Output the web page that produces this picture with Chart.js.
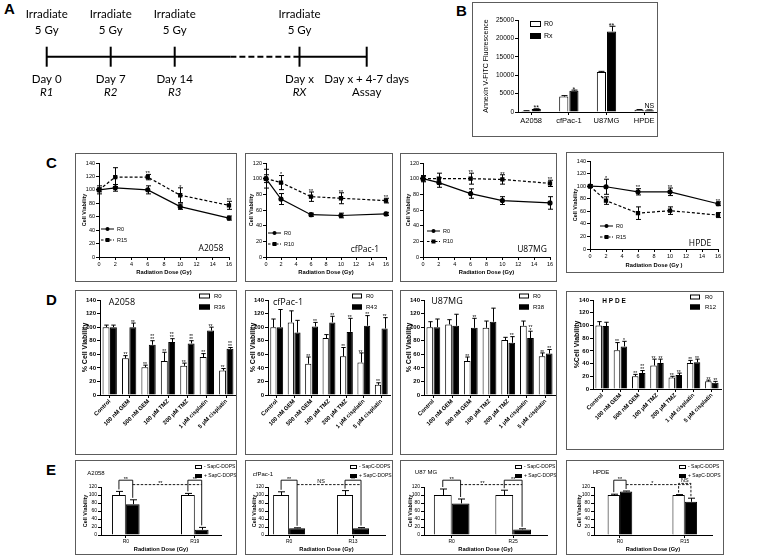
<!DOCTYPE html>
<html><head><meta charset="utf-8"><title>Figure</title>
<script src="https://cdn.jsdelivr.net/npm/chart.js@4.4.1/dist/chart.umd.min.js"></script>
<style>
html,body{margin:0;padding:0;background:#fff;}
#page{position:relative;width:767px;height:558px;overflow:hidden;background:#fff;}
.letter{position:absolute;font:bold 15px "Liberation Sans",Arial,sans-serif;color:#000;line-height:15px;}
</style></head>
<body><div id="page">
<div class="letter" style="left:4px;top:1px">A</div>
<div class="letter" style="left:456px;top:3px">B</div>
<div class="letter" style="left:46px;top:155px">C</div>
<div class="letter" style="left:46px;top:292px">D</div>
<div class="letter" style="left:46px;top:462px">E</div>
</div>
<script>
// ================= DATA =================
// Panel A - timeline
const tlPos = [0, 1, 2, 3.95, 5];
const tlTop1 = ['Irradiate', 'Irradiate', 'Irradiate', 'Irradiate', ''];
const tlTop2 = ['5 Gy', '5 Gy', '5 Gy', '5 Gy', ''];
const tlDay = ['Day 0', 'Day 7', 'Day 14', 'Day x', 'Day x + 4-7 days'];
const tlSub = ['R1', 'R2', 'R3', 'RX', 'Assay'];
const tlSubItalic = [true, true, true, true, false];
const tlSolidA = [0, 2.87];
const tlDashed = [2.87, 3.86];
const tlSolidB = [3.86, 5];

// Panel B
const bCats = ['A2058', 'cfPac-1', 'U87MG', 'HPDE'];
const bR0 = [300, 4200, 10900, 600];
const bR0Err = [60, 250, 150, 60];
const bRx = [800, 5800, 21900, 500];
const bRxErr = [80, 150, 1400, 80];
const bSig = ['**', '*', '**', 'NS'];

// Panel C
const cDose = [0, 2, 6, 10, 16];
const cA_R0 = [100, 103, 100, 75, 58];   const cA_R0Err = [3, 5, 6, 4, 3];
const cA_R15 = [100, 119, 119, 92, 77];  const cA_R15Err = [6, 14, 4, 11, 6];
const cA_Sig = ['', '', '**', '*', '**'];
const cC_R0 = [100, 74, 54, 53, 55];     const cC_R0Err = [5, 7, 2, 3, 2];
const cC_R10 = [100, 95, 77, 75, 72];    const cC_R10Err = [12, 9, 6, 7, 3];
const cC_Sig = ['', '*', '**', '**', '**'];
const cU_R0 = [100, 95, 81, 72, 69];     const cU_R0Err = [3, 6, 6, 5, 8];
const cU_R10 = [100, 100, 100, 99, 94];  const cU_R10Err = [4, 7, 7, 6, 4];
const cU_Sig = ['', '', '**', '**', '**'];
const cH_R0 = [100, 99, 91, 91, 72];     const cH_R0Err = [2, 12, 5, 6, 3];
const cH_R15 = [100, 77, 57, 61, 54];    const cH_R15Err = [2, 6, 10, 6, 4];
const cH_Sig = ['', '*', '**', '**', '**'];

// Panel D
const dDrugs = ['Control', '100 nM GEM', '500 nM GEM', '100 \u03bcM TMZ', '200 \u03bcM TMZ', '1 \u03bcM cisplatin', '5 \u03bcM cisplatin'];
const dA_R0 = [100, 54, 41, 50, 43, 56, 36];     const dA_R0Err = [3, 4, 3, 13, 4, 5, 3];
const dA_R36 = [100, 100, 74, 78, 76, 95, 68];   const dA_R36Err = [3, 6, 6, 5, 4, 5, 2];
const dA_R0Sig = ['', '**', '**', '**', '**', '**', '**'];
const dA_R36Sig = ['', '**', '**\n**', '**\n**', '**\n**', '**', '**\n**'];
const dC_R0 = [100, 107, 46, 84, 57, 48, 15];    const dC_R0Err = [12, 17, 10, 5, 13, 14, 3];
const dC_R43 = [100, 92, 101, 107, 93, 102, 98]; const dC_R43Err = [26, 18, 6, 9, 20, 15, 16];
const dC_R0Sig = ['', '', '**', '', '**', '**', '**'];
const dC_R43Sig = ['', '', '**', '**', '**', '**', '**'];
const dU_R0 = [100, 104, 50, 99, 81, 102, 57];   const dU_R0Err = [8, 7, 6, 10, 4, 7, 5];
const dU_R38 = [100, 102, 99, 108, 77, 84, 61];  const dU_R38Err = [12, 17, 14, 20, 9, 10, 6];
const dU_R0Sig = ['', '', '**', '', '', '', '**'];
const dU_R38Sig = ['', '', '**', '', '**', '**\n*', '**'];
const dH_R0 = [100, 61, 20, 37, 18, 41, 12];     const dH_R0Err = [6, 12, 3, 10, 2, 4, 2];
const dH_R12 = [99, 67, 25, 41, 22, 42, 10];     const dH_R12Err = [6, 8, 4, 6, 3, 5, 2];
const dH_R0Sig = ['', '**', '**', '**', '**', '**', '**'];
const dH_R12Sig = ['', '*', '**\n**', '**', '**', '**', '**'];

// Panel E
const eA_Cats = ['R0', 'R19']; const eA_Minus = [100, 100]; const eA_MinusErr = [9, 4];  const eA_Plus = [77, 13];  const eA_PlusErr = [11, 6];
const eC_Cats = ['R0', 'R13']; const eC_Minus = [100, 100]; const eC_MinusErr = [8, 11]; const eC_Plus = [17, 17];  const eC_PlusErr = [1, 1.5];
const eU_Cats = ['R0', 'R25']; const eU_Minus = [100, 100]; const eU_MinusErr = [15, 12]; const eU_Plus = [79, 14]; const eU_PlusErr = [11, 1.5];
const eH_Cats = ['R0', 'R15']; const eH_Minus = [100, 100]; const eH_MinusErr = [2, 1];  const eH_Plus = [109, 83]; const eH_PlusErr = [1, 9];
const eA_Sig = ['**', '**', '**'];
const eC_Sig = ['**', 'NS', '**'];
const eU_Sig = ['**', '**', '**'];
const eH_Sig = ['**', '*', 'NS'];

// ================= LAYOUT (page pixels) =================
const LB = {box: [472, 2, 186, 135], canvasW: 210, plot: [518, 20, 663, 112]};
const LC = [
  {box: [75, 153, 162, 129], plot: [99, 163, 229, 257], yTitleX: 84, xTitleY: 272, leg: {x: 101, y: 229, dy: 11, len: 13}, name: {x: 211, y: 249}},
  {box: [245, 153, 148, 129], plot: [266, 163, 386, 257], yTitleX: 251, xTitleY: 272, leg: {x: 268, y: 233, dy: 11, len: 13}, name: {x: 365, y: 250}},
  {box: [400, 153, 157, 129], plot: [423, 163, 550, 257], yTitleX: 408, xTitleY: 272, leg: {x: 427, y: 231, dy: 10.5, len: 13}, name: {x: 532, y: 250}},
  {box: [566, 152, 158, 121], plot: [590, 161, 718, 249], yTitleX: 575, xTitleY: 265, leg: {x: 600, y: 226, dy: 11, len: 13}, name: {x: 700, y: 244}}
];
const LD = [
  {box: [75, 290, 162, 165], plot: [100, 300, 236, 395], yTitleX: 85, leg: {x: 199, y: 296, dy: 11, w: 11, h: 5, tx: 214}, name: {x: 122, y: 302}},
  {box: [245, 290, 148, 165], plot: [268, 300, 390, 395], yTitleX: 253, leg: {x: 352, y: 296, dy: 11, w: 10, h: 5, tx: 366}, name: {x: 288, y: 302}},
  {box: [400, 290, 157, 165], plot: [424, 300, 555, 395], yTitleX: 409, leg: {x: 519, y: 296, dy: 11, w: 10, h: 5, tx: 533}, name: {x: 447, y: 301}},
  {box: [566, 291, 158, 159], plot: [593, 300, 721, 389], yTitleX: 577, leg: {x: 690, y: 297, dy: 10, w: 10, h: 5, tx: 705}, name: {x: 614, y: 301}}
];
const LE = [
  {box: [75, 460, 162, 95], plot: [101, 487, 221, 535], xr: [-0.36, 1.38], cat: 0.4, yTitleX: 85, xTitleY: 549, leg: {x: 195, y: 467, dy: 9, w: 7, h: 4, tx: 204}, name: {x: 96, y: 473}},
  {box: [245, 460, 148, 95], plot: [268, 487, 385, 535], xr: [-0.33, 1.5], cat: 0.5, yTitleX: 254, xTitleY: 549, leg: {x: 350, y: 467, dy: 9, w: 7, h: 4, tx: 359}, name: {x: 263, y: 474}},
  {box: [400, 460, 157, 95], plot: [424, 487, 547, 535], xr: [-0.45, 1.55], cat: 0.58, yTitleX: 410, xTitleY: 549, leg: {x: 515, y: 467, dy: 9, w: 7, h: 4, tx: 524}, name: {x: 426, y: 472}},
  {box: [566, 460, 158, 95], plot: [594, 487, 712, 535], xr: [-0.4, 1.42], cat: 0.38, yTitleX: 579, xTitleY: 549, leg: {x: 679, y: 467, dy: 9, w: 7, h: 4, tx: 688}, name: {x: 601, y: 472}}
];

// ================= SETUP =================
const FONT = '"Liberation Sans", Arial, sans-serif';
const CAL = 'Lato, "Open Sans", sans-serif';
const OPEN = '"Open Sans", Lato, sans-serif';
Chart.defaults.font.family = FONT;
Chart.defaults.color = '#000';
Chart.defaults.animation = false;
Chart.defaults.responsive = false;
Chart.defaults.devicePixelRatio = 1;
Chart.defaults.events = [];
Chart.defaults.plugins.legend.display = false;
Chart.defaults.plugins.tooltip.enabled = false;

const page = document.getElementById('page');
function makeFrame(box, border, cw, ch) {
  const [x, y, w, h] = box;
  const d = document.createElement('div');
  d.style.cssText = `position:absolute;left:${x}px;top:${y}px;width:${w}px;height:${h}px;overflow:hidden;`;
  const c = document.createElement('canvas');
  c.width = cw || w; c.height = ch || h;
  c.style.cssText = `position:absolute;left:0;top:0;width:${c.width}px;height:${c.height}px;`;
  d.appendChild(c);
  if (border) {
    const b = document.createElement('div');
    b.style.cssText = 'position:absolute;left:0;top:0;right:0;bottom:0;border:1.5px solid #5c5c5c;pointer-events:none;';
    d.appendChild(b);
  }
  page.appendChild(d);
  return c;
}
const fnt = (size, weight, family) => ({size, weight: weight || 'normal', family: family || FONT, lineHeight: 1.2});

function axisBase(tickFont) {
  return {
    grid: {display: true, drawOnChartArea: false, drawTicks: true, tickLength: 3, color: '#000', lineWidth: 1, offset: false},
    border: {display: true, color: '#000', width: 1},
    ticks: {color: '#000', font: tickFont, padding: 1, autoSkip: false, maxRotation: 0, minRotation: 0}
  };
}
function yAxis(L, o) {
  const a = axisBase(o.tickFont);
  const lh = o.titleFont.size * 1.2;
  a.type = 'linear'; a.position = 'left'; a.min = o.min; a.max = o.max;
  a.ticks.stepSize = o.step; a.ticks.callback = v => String(v);
  a.title = {display: true, text: o.title, color: '#000', font: o.titleFont,
    padding: {top: Math.max(0, o.titleX - L.box[0] - lh / 2), bottom: 0}};
  a.afterFit = s => { s.width = L.plot[0] - L.box[0]; };
  return a;
}
function xAxis(L, o) {
  const a = axisBase(o.tickFont);
  a.type = o.type || 'linear'; a.position = 'bottom'; a.offset = !!o.offset;
  if (a.type === 'linear') { a.min = o.min; a.max = o.max; }
  if (o.step) a.ticks.stepSize = o.step;
  if (o.cats) {
    a.afterBuildTicks = s => { s.ticks = o.cats.map((_, i) => ({value: i})); };
    a.ticks.callback = v => (o.cats[v] !== undefined ? o.cats[v] : '');
  } else if (a.type === 'linear') {
    a.ticks.callback = v => String(v);
  }
  if (o.title) {
    const lh = o.titleFont.size * 1.2;
    a.title = {display: true, text: o.title, color: '#000', font: o.titleFont,
      padding: {top: 0, bottom: Math.max(0, L.box[1] + L.box[3] - o.titleY - lh / 2)}};
  }
  a.afterFit = s => { s.height = L.box[1] + L.box[3] - L.plot[3]; };
  return a;
}
function padFor(L, cw) {
  return {left: 0, bottom: 0, top: L.plot[1] - L.box[1], right: (cw || L.box[2]) - (L.plot[2] - L.box[0])};
}
const rawY = r => (typeof r === 'object' && r !== null ? r.y : r);

// ================= PLUGINS =================
const errPlugin = {
  id: 'errbars',
  afterDatasetsDraw(chart) {
    const ctx = chart.ctx;
    chart.data.datasets.forEach((ds, di) => {
      if (!ds.errors) return;
      const meta = chart.getDatasetMeta(di);
      const ys = chart.scales[meta.yAxisID];
      ctx.save();
      ctx.strokeStyle = '#000'; ctx.lineWidth = 1; ctx.setLineDash([]);
      meta.data.forEach((el, i) => {
        const e = ds.errors[i]; if (!e) return;
        const v = rawY(ds.data[i]);
        const x = Math.round(el.x) + 0.5;
        const top = ys.getPixelForValue(v + e);
        const bot = ds.errUp ? ys.getPixelForValue(v) : ys.getPixelForValue(v - e);
        const cw = ds.capW || 2.5;
        ctx.beginPath();
        ctx.moveTo(x, top); ctx.lineTo(x, bot);
        ctx.moveTo(x - cw, top); ctx.lineTo(x + cw, top);
        if (!ds.errUp) { ctx.moveTo(x - cw, bot); ctx.lineTo(x + cw, bot); }
        ctx.stroke();
      });
      ctx.restore();
    });
  }
};
const starPlugin = {
  id: 'stars',
  afterDatasetsDraw(chart) {
    const ctx = chart.ctx;
    chart.data.datasets.forEach((ds, di) => {
      if (!ds.stars) return;
      const meta = chart.getDatasetMeta(di);
      const ys = chart.scales[meta.yAxisID];
      const size = ds.starSize || 6;
      ctx.save();
      ctx.fillStyle = '#000'; ctx.font = `${size}px ${FONT}`; ctx.textAlign = 'center'; ctx.textBaseline = 'alphabetic';
      meta.data.forEach((el, i) => {
        const s = ds.stars[i]; if (!s) return;
        const v = rawY(ds.data[i]);
        const e = ds.errors ? (ds.errors[i] || 0) : 0;
        let y = ys.getPixelForValue(v + e) - 1.5;
        const lines = s.split('\n');
        for (let k = lines.length - 1; k >= 0; k--) {
          const starOnly = /^\*+$/.test(lines[k]);
          ctx.fillText(lines[k], el.x, starOnly ? y + size * 0.42 : y);
          y -= starOnly ? size * 0.6 : size * 0.85;
        }
      });
      ctx.restore();
    });
  }
};
const textPlugin = {
  id: 'texts',
  afterDraw(chart, args, opts) {
    if (!opts || !opts.items) return;
    const ctx = chart.ctx;
    ctx.save(); ctx.fillStyle = '#000'; ctx.textBaseline = 'middle';
    opts.items.forEach(t => {
      ctx.font = t.font; ctx.textAlign = t.align || 'center';
      ctx.fillText(t.text, t.x, t.y);
    });
    ctx.restore();
  }
};
const lineLegendPlugin = {
  id: 'lineLegend',
  afterDraw(chart, args, o) {
    if (!o || !o.items) return;
    const ctx = chart.ctx;
    ctx.save();
    o.items.forEach((it, k) => {
      const y = o.y + k * o.dy;
      ctx.strokeStyle = '#000'; ctx.fillStyle = '#000'; ctx.lineWidth = 1;
      ctx.setLineDash(it.dash ? [2.5, 1.5] : []);
      ctx.beginPath(); ctx.moveTo(o.x, y); ctx.lineTo(o.x + o.len, y); ctx.stroke();
      ctx.setLineDash([]);
      const cx = o.x + o.len / 2;
      if (it.square) ctx.fillRect(cx - 2, y - 2, 4, 4);
      else { ctx.beginPath(); ctx.arc(cx, y, 2, 0, Math.PI * 2); ctx.fill(); }
      ctx.font = o.font; ctx.textAlign = 'left'; ctx.textBaseline = 'middle';
      ctx.fillText(it.label, o.x + o.len + 3, y);
    });
    ctx.restore();
  }
};
const boxLegendPlugin = {
  id: 'boxLegend',
  afterDraw(chart, args, o) {
    if (!o || !o.items) return;
    const ctx = chart.ctx;
    ctx.save();
    o.items.forEach((it, k) => {
      const y = o.y + k * o.dy;
      ctx.fillStyle = it.fill; ctx.strokeStyle = '#000'; ctx.lineWidth = 1;
      ctx.fillRect(o.x, y - o.h / 2, o.w, o.h);
      ctx.strokeRect(o.x + 0.5, y - o.h / 2 + 0.5, o.w - 1, o.h - 1);
      ctx.fillStyle = '#000'; ctx.font = o.font; ctx.textAlign = 'left'; ctx.textBaseline = 'middle';
      ctx.fillText(it.label, o.tx, y);
    });
    ctx.restore();
  }
};
const bracketPlugin = {
  id: 'brackets',
  afterDatasetsDraw(chart, args, o) {
    if (!o || !o.items) return;
    const ctx = chart.ctx, ys = chart.scales.y, xs = chart.scales.x;
    const m = [chart.getDatasetMeta(0), chart.getDatasetMeta(1)];
    const d = [chart.data.datasets[0], chart.data.datasets[1]];
    const topOf = (k, i) => ys.getPixelForValue(rawY(d[k].data[i]) + (d[k].errors[i] || 0)) - 2;
    ctx.save();
    ctx.strokeStyle = '#000'; ctx.fillStyle = '#000'; ctx.lineWidth = 0.9;
    ctx.textAlign = 'center'; ctx.textBaseline = 'alphabetic';
    o.items.forEach(it => {
      ctx.setLineDash(it.dashed ? [2.5, 1.5] : []);
      const yt = ys.getPixelForValue(it.y);
      let lx;
      if (it.type === 'bracket') {
        const xa = m[0].data[it.cat].x, xb = m[1].data[it.cat].x;
        ctx.beginPath();
        ctx.moveTo(xa, topOf(0, it.cat)); ctx.lineTo(xa, yt); ctx.lineTo(xb, yt); ctx.lineTo(xb, topOf(1, it.cat));
        ctx.stroke();
        lx = (xa + xb) / 2;
      } else {
        const xa = m[1].data[0].x, xb = m[1].data[1].x;
        ctx.beginPath(); ctx.moveTo(xa, yt); ctx.lineTo(xb, yt); ctx.stroke();
        lx = (xs.getPixelForValue(0) + xs.getPixelForValue(1)) / 2;
      }
      ctx.setLineDash([]);
      const starOnly = /^\*+$/.test(it.label);
      ctx.font = `${o.size}px ${FONT}`;
      ctx.fillText(it.label, lx, yt - 1.5 + (starOnly ? o.size * 0.42 : 0));
    });
    ctx.restore();
  }
};
const timelinePlugin = {
  id: 'timeline',
  afterDraw(chart) {
    const ctx = chart.ctx, xs = chart.scales.x, ys = chart.scales.y;
    const y0 = ys.getPixelForValue(0);
    ctx.save(); ctx.fillStyle = '#000'; ctx.textAlign = 'center'; ctx.textBaseline = 'middle';
    tlPos.forEach((p, i) => {
      const x = xs.getPixelForValue(p);
      ctx.font = `11.5px ${CAL}`;
      if (tlTop1[i]) ctx.fillText(tlTop1[i], x, y0 - 42);
      if (tlTop2[i]) ctx.fillText(tlTop2[i], x, y0 - 26);
      ctx.fillText(tlDay[i], x, y0 + 22.6);
      ctx.font = `${tlSubItalic[i] ? 'italic ' : ''}11.5px ${CAL}`;
      ctx.fillText(tlSub[i], x, y0 + 36);
    });
    ctx.restore();
  }
};

// ================= PANEL A =================
(function () {
  const W = 440, H = 110;
  const c = makeFrame([0, 0, W, H], false);
  const seg = a => a.map(x => ({x, y: 0}));
  new Chart(c, {
    type: 'scatter',
    data: {datasets: [
      {data: seg(tlSolidA), showLine: true, borderColor: '#000', borderWidth: 2, pointRadius: 0, clip: false},
      {data: seg(tlDashed), showLine: true, borderColor: '#000', borderWidth: 2, borderDash: [6, 3], pointRadius: 0, clip: false},
      {data: seg(tlSolidB), showLine: true, borderColor: '#000', borderWidth: 2, pointRadius: 0, clip: false},
      {data: seg(tlPos), showLine: false, pointStyle: 'line', pointRotation: 90, pointRadius: 10,
        pointBorderWidth: 2, pointBorderColor: '#000', borderColor: '#000', clip: false}
    ]},
    options: {
      layout: {autoPadding: false, padding: {left: 46.7, right: W - 366.7, top: 20, bottom: H - 93.4}},
      scales: {x: {display: false, min: 0, max: 5}, y: {display: false, min: -1, max: 1}}
    },
    plugins: [timelinePlugin]
  });
})();

// ================= PANEL B =================
(function () {
  const L = LB, W = L.canvasW;
  const c = makeFrame(L.box, true, W, L.box[3]);
  const lx = 530 - L.box[0], ly = 24 - L.box[1];
  new Chart(c, {
    type: 'bar',
    data: {datasets: [
      {data: bR0.map((v, i) => ({x: i, y: v})), backgroundColor: '#fff', borderColor: '#000', borderWidth: 1,
        categoryPercentage: 0.54, barPercentage: 0.9, errors: bR0Err, errUp: true, capW: 3},
      {data: bRx.map((v, i) => ({x: i, y: v})), backgroundColor: '#000', borderColor: '#000', borderWidth: 1,
        categoryPercentage: 0.54, barPercentage: 0.9, errors: bRxErr, errUp: true, capW: 3, stars: bSig, starSize: 7}
    ]},
    options: {
      layout: {autoPadding: false, padding: padFor(L, W)},
      scales: {
        x: xAxis(L, {min: -0.35, max: 3.5, cats: bCats, tickFont: fnt(7.5)}),
        y: yAxis(L, {min: 0, max: 25000, step: 5000, tickFont: fnt(6.5), title: 'Annexin V-FITC Fluorescence',
          titleFont: fnt(7), titleX: 486})
      },
      plugins: {
        boxLegend: {x: lx, y: ly, dy: 12, w: 11, h: 6, tx: lx + 14, font: `7px ${FONT}`,
          items: [{label: 'R0', fill: '#fff'}, {label: 'Rx', fill: '#000'}]}
      }
    },
    plugins: [errPlugin, starPlugin, boxLegendPlugin]
  });
})();

// ================= PANEL C =================
const C_SPECS = [
  {L: LC[0], r0: cA_R0, r0e: cA_R0Err, rn: cA_R15, rne: cA_R15Err, rnLabel: 'R15', sig: cA_Sig, sigOn: 1, ymax: 140, name: 'A2058', xt: 'Radiation Dose (Gy)'},
  {L: LC[1], r0: cC_R0, r0e: cC_R0Err, rn: cC_R10, rne: cC_R10Err, rnLabel: 'R10', sig: cC_Sig, sigOn: 1, ymax: 120, name: 'cfPac-1', xt: 'Radiation Dose (Gy)'},
  {L: LC[2], r0: cU_R0, r0e: cU_R0Err, rn: cU_R10, rne: cU_R10Err, rnLabel: 'R10', sig: cU_Sig, sigOn: 1, ymax: 120, name: 'U87MG', xt: 'Radiation Dose (Gy)'},
  {L: LC[3], r0: cH_R0, r0e: cH_R0Err, rn: cH_R15, rne: cH_R15Err, rnLabel: 'R15', sig: cH_Sig, sigOn: 0, ymax: 140, name: 'HPDE', xt: 'Radiation Dose (Gy )'}
];
C_SPECS.forEach(s => {
  const L = s.L;
  const c = makeFrame(L.box, true);
  const ox = L.box[0], oy = L.box[1];
  const mk = (arr) => cDose.map((x, i) => ({x, y: arr[i]}));
  new Chart(c, {
    type: 'line',
    data: {datasets: [
      {data: mk(s.r0), errors: s.r0e, stars: s.sigOn === 0 ? s.sig : null, starSize: 5.5, capW: 2.5,
        borderColor: '#000', backgroundColor: '#000', borderWidth: 1.2, pointStyle: 'circle', pointRadius: 2,
        pointBackgroundColor: '#000', pointBorderColor: '#000', tension: 0, clip: false},
      {data: mk(s.rn), errors: s.rne, stars: s.sigOn === 1 ? s.sig : null, starSize: 5.5, capW: 2.5,
        borderColor: '#000', backgroundColor: '#000', borderWidth: 1.2, borderDash: [3, 2], pointStyle: 'rect', pointRadius: 2.2,
        pointBackgroundColor: '#000', pointBorderColor: '#000', tension: 0, clip: false}
    ]},
    options: {
      layout: {autoPadding: false, padding: padFor(L)},
      scales: {
        x: xAxis(L, {min: 0, max: 16, step: 2, tickFont: fnt(5.5), title: s.xt, titleFont: fnt(5.8, 'bold'), titleY: L.xTitleY}),
        y: yAxis(L, {min: 0, max: s.ymax, step: 20, tickFont: fnt(5.5), title: 'Cell Viability', titleFont: fnt(5.5, 'bold'), titleX: L.yTitleX})
      },
      plugins: {
        lineLegend: {x: L.leg.x - ox, y: L.leg.y - oy, dy: L.leg.dy, len: L.leg.len, font: `5.5px ${FONT}`,
          items: [{label: 'R0', dash: false, square: false}, {label: s.rnLabel, dash: true, square: true}]},
        texts: {items: [{text: s.name, x: L.name.x - ox, y: L.name.y - oy, font: `8.5px ${OPEN}`}]}
      }
    },
    plugins: [errPlugin, starPlugin, lineLegendPlugin, textPlugin]
  });
});

// ================= PANEL D =================
const D_SPECS = [
  {L: LD[0], r0: dA_R0, r0e: dA_R0Err, rn: dA_R36, rne: dA_R36Err, s0: dA_R0Sig, sn: dA_R36Sig, rnLabel: 'R36', name: 'A2058', nameFont: `9px ${OPEN}`, yt: '% Cell Viability'},
  {L: LD[1], r0: dC_R0, r0e: dC_R0Err, rn: dC_R43, rne: dC_R43Err, s0: dC_R0Sig, sn: dC_R43Sig, rnLabel: 'R43', name: 'cfPac-1', nameFont: `9px ${OPEN}`, yt: '% Cell Viability'},
  {L: LD[2], r0: dU_R0, r0e: dU_R0Err, rn: dU_R38, rne: dU_R38Err, s0: dU_R0Sig, sn: dU_R38Sig, rnLabel: 'R38', name: 'U87MG', nameFont: `9px ${OPEN}`, yt: '% Cell Viability'},
  {L: LD[3], r0: dH_R0, r0e: dH_R0Err, rn: dH_R12, rne: dH_R12Err, s0: dH_R0Sig, sn: dH_R12Sig, rnLabel: 'R12', name: 'H P D E', nameFont: `bold 6.5px ${FONT}`, yt: '%Cell Viability'}
];
D_SPECS.forEach(s => {
  const L = s.L;
  const c = makeFrame(L.box, true);
  const ox = L.box[0], oy = L.box[1];
  const xa = axisBase(fnt(5.8, 'bold'));
  xa.type = 'category'; xa.position = 'bottom'; xa.offset = true;
  xa.ticks.minRotation = 45; xa.ticks.maxRotation = 45; xa.ticks.padding = 0;
  xa.afterFit = sc => { sc.height = L.box[1] + L.box[3] - L.plot[3]; };
  new Chart(c, {
    type: 'bar',
    data: {labels: dDrugs, datasets: [
      {data: s.r0, backgroundColor: '#fff', borderColor: '#000', borderWidth: 1, categoryPercentage: 0.76, barPercentage: 0.94,
        errors: s.r0e, errUp: true, capW: 2.2, stars: s.s0, starSize: 5},
      {data: s.rn, backgroundColor: '#000', borderColor: '#000', borderWidth: 1, categoryPercentage: 0.76, barPercentage: 0.94,
        errors: s.rne, errUp: true, capW: 2.2, stars: s.sn, starSize: 5}
    ]},
    options: {
      layout: {autoPadding: false, padding: padFor(L)},
      scales: {
        x: xa,
        y: yAxis(L, {min: 0, max: 140, step: 20, tickFont: fnt(6, 'bold'), title: s.yt, titleFont: fnt(7, 'bold'), titleX: L.yTitleX})
      },
      plugins: {
        boxLegend: {x: L.leg.x - ox, y: L.leg.y - oy, dy: L.leg.dy, w: L.leg.w, h: L.leg.h, tx: L.leg.tx - ox, font: `6px ${FONT}`,
          items: [{label: 'R0', fill: '#fff'}, {label: s.rnLabel, fill: '#000'}]},
        texts: {items: [{text: s.name, x: L.name.x - ox, y: L.name.y - oy, font: s.nameFont}]}
      }
    },
    plugins: [errPlugin, starPlugin, boxLegendPlugin, textPlugin]
  });
});

// ================= PANEL E =================
const E_SPECS = [
  {L: LE[0], cats: eA_Cats, mi: eA_Minus, mie: eA_MinusErr, pl: eA_Plus, ple: eA_PlusErr, sig: eA_Sig, name: 'A2058', nsDashed: false},
  {L: LE[1], cats: eC_Cats, mi: eC_Minus, mie: eC_MinusErr, pl: eC_Plus, ple: eC_PlusErr, sig: eC_Sig, name: 'cfPac-1', nsDashed: false},
  {L: LE[2], cats: eU_Cats, mi: eU_Minus, mie: eU_MinusErr, pl: eU_Plus, ple: eU_PlusErr, sig: eU_Sig, name: 'U87 MG', nsDashed: false},
  {L: LE[3], cats: eH_Cats, mi: eH_Minus, mie: eH_MinusErr, pl: eH_Plus, ple: eH_PlusErr, sig: eH_Sig, name: 'HPDE', nsDashed: true}
];
E_SPECS.forEach(s => {
  const L = s.L;
  const c = makeFrame(L.box, true);
  const ox = L.box[0], oy = L.box[1];
  new Chart(c, {
    type: 'bar',
    data: {datasets: [
      {data: s.mi.map((v, i) => ({x: i, y: v})), backgroundColor: '#fff', borderColor: '#000', borderWidth: 1,
        categoryPercentage: L.cat, barPercentage: 1, errors: s.mie, errUp: true, capW: 3.5},
      {data: s.pl.map((v, i) => ({x: i, y: v})), backgroundColor: '#000', borderColor: '#000', borderWidth: 1,
        categoryPercentage: L.cat, barPercentage: 1, errors: s.ple, errUp: true, capW: 3.5}
    ]},
    options: {
      layout: {autoPadding: false, padding: padFor(L)},
      scales: {
        x: xAxis(L, {min: L.xr[0], max: L.xr[1], cats: s.cats, tickFont: fnt(5), title: 'Radiation Dose (Gy)',
          titleFont: fnt(5.7, 'bold'), titleY: L.xTitleY}),
        y: yAxis(L, {min: 0, max: 120, step: 20, tickFont: fnt(5), title: 'Cell Viability', titleFont: fnt(5.5, 'bold'), titleX: L.yTitleX})
      },
      plugins: {
        brackets: {size: 5.5, items: [
          {type: 'bracket', cat: 0, y: 137, label: s.sig[0]},
          {type: 'link', y: 126, label: s.sig[1], dashed: true},
          {type: 'bracket', cat: 1, y: s.nsDashed ? 129 : 137, label: s.sig[2], dashed: s.nsDashed}
        ]},
        boxLegend: {x: L.leg.x - ox, y: L.leg.y - oy, dy: L.leg.dy, w: L.leg.w, h: L.leg.h, tx: L.leg.tx - ox, font: `5px ${FONT}`,
          items: [{label: '- SapC-DOPS', fill: '#fff'}, {label: '+ SapC-DOPS', fill: '#000'}]},
        texts: {items: [{text: s.name, x: L.name.x - ox, y: L.name.y - oy, font: `6px ${FONT}`}]}
      }
    },
    plugins: [errPlugin, bracketPlugin, boxLegendPlugin, textPlugin]
  });
});
</script></body></html>
